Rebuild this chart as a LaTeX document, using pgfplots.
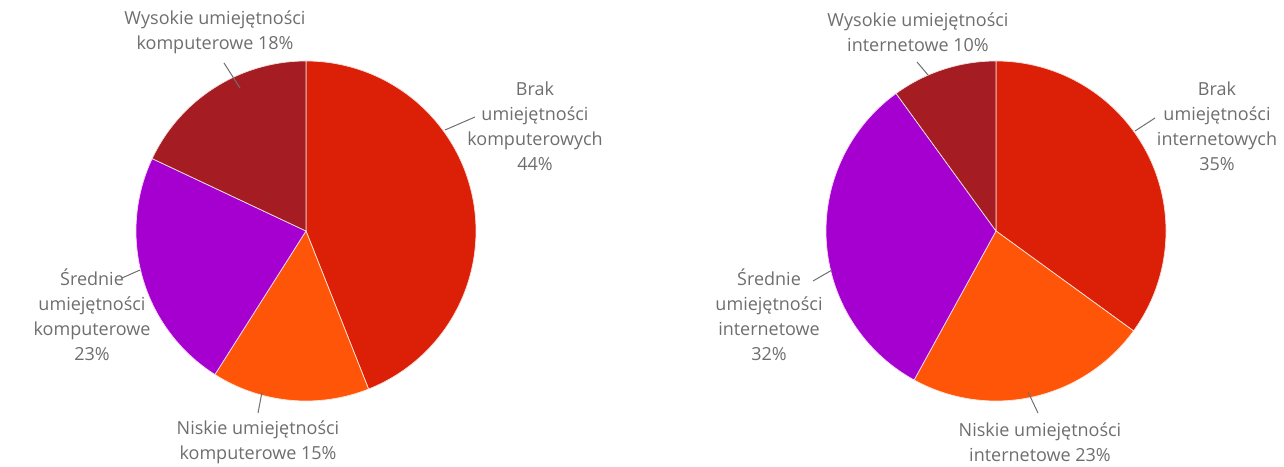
\documentclass[border=0pt]{standalone}
\usepackage{pgfplots}
\pgfplotsset{compat=1.18}
\usepackage{fontspec}
\setmainfont{Open Sans}
\definecolor{cBrak}{HTML}{DC2008}
\definecolor{cNis}{HTML}{FF5508}
\definecolor{cSre}{HTML}{A600D0}
\definecolor{cWys}{HTML}{A51C22}
\definecolor{ctxt}{HTML}{6E6E6E}
\definecolor{cline}{HTML}{707070}
\tikzset{lab/.style={font=\fontsize{9.0}{12.5}\selectfont, text=ctxt, align=center, inner sep=0pt}}
% slice: center x, center y (pixels), start %, end %, colour
\newcommand{\slice}[5]{%
  \addplot[fill=#5, draw=white!85!#5, line width=0.35pt, domain={3.6*#3}:{3.6*#4}, samples=120, variable=\t]
    ({#1+170*sin(\t)}, {-(#2-170*cos(\t))}) -- (axis cs:#1,-#2) -- cycle;
}
\begin{document}
\begin{tikzpicture}
\useasboundingbox (0,0) rectangle (642pt,233pt);
\begin{axis}[
  at={(0,0)}, anchor=south west,
  width=642pt, height=233pt, scale only axis,
  xmin=0, xmax=1284, ymin=-466, ymax=0,
  hide axis, clip=false,
]
% left pie: Brak 44, Niskie 15, Srednie 23, Wysokie 18
\slice{306}{231}{0}{44}{cBrak}
\slice{306}{231}{44}{59}{cNis}
\slice{306}{231}{59}{82}{cSre}
\slice{306}{231}{82}{100}{cWys}
% right pie: Brak 35, Niskie 23, Srednie 32, Wysokie 10
\slice{996}{231}{0}{35}{cBrak}
\slice{996}{231}{35}{58}{cNis}
\slice{996}{231}{58}{90}{cSre}
\slice{996}{231}{90}{100}{cWys}
% leader lines
\addplot[cline, line width=0.5pt] coordinates {(240,-88) (224,-63)};
\addplot[cline, line width=0.5pt] coordinates {(445,-130) (475,-117)};
\addplot[cline, line width=0.5pt] coordinates {(140,-270) (122,-278)};
\addplot[cline, line width=0.5pt] coordinates {(262,-392) (258,-413)};
\addplot[cline, line width=0.5pt] coordinates {(928,-75) (917,-62)};
\addplot[cline, line width=0.5pt] coordinates {(1135,-131) (1155,-118)};
\addplot[cline, line width=0.5pt] coordinates {(832,-270) (813,-281)};
\addplot[cline, line width=0.5pt] coordinates {(1028,-392) (1038,-413)};
% labels
\node[lab] at (axis cs:215,-32) {Wysokie umiejętności\\komputerowe 18\%};
\node[lab] at (axis cs:535,-126) {Brak\\umiejętności\\komputerowych\\44\%};
\node[lab] at (axis cs:92,-315) {Średnie\\umiejętności\\komputerowe\\23\%};
\node[lab] at (axis cs:258,-442) {Niskie umiejętności\\komputerowe 15\%};
\node[lab] at (axis cs:918,-32) {Wysokie umiejętności\\internetowe 10\%};
\node[lab] at (axis cs:1217,-126) {Brak\\umiejętności\\internetowych\\35\%};
\node[lab] at (axis cs:769,-315) {Średnie\\umiejętności\\internetowe\\32\%};
\node[lab] at (axis cs:1040,-442) {Niskie umiejętności\\internetowe 23\%};
\end{axis}
\end{tikzpicture}
\end{document}
